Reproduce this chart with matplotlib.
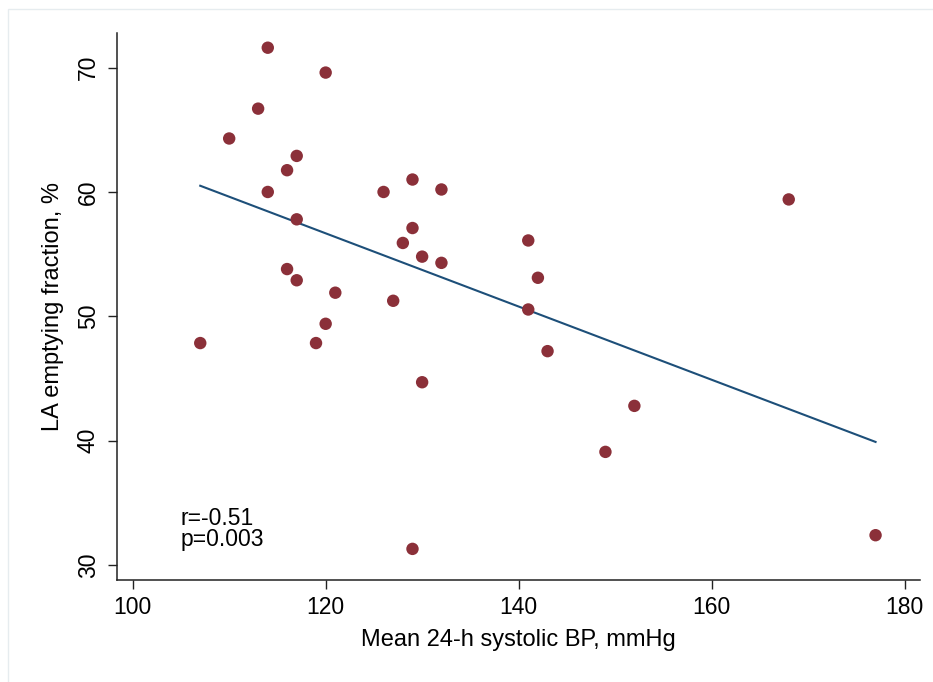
import numpy as np
import matplotlib
matplotlib.use("Agg")
import matplotlib.pyplot as plt
from matplotlib.patches import Rectangle

plt.rcParams['font.family'] = ['Liberation Sans', 'DejaVu Sans']

# mean 24-h systolic BP (mmHg) and LA emptying fraction (%)
sbp = [114, 120, 113, 110, 117, 116, 114, 117, 116, 117, 121, 120, 107, 119,
       126, 129, 132, 129, 128, 130, 132, 127, 130, 129,
       141, 142, 141, 143, 149, 152, 168, 177]
laef = [71.6, 69.6, 66.7, 64.3, 62.9, 61.75, 60.0, 57.8, 53.8, 52.9, 51.9, 49.4, 47.85, 47.85,
        60.0, 61.0, 60.2, 57.1, 55.9, 54.8, 54.3, 51.25, 44.7, 31.3,
        56.1, 53.1, 50.55, 47.2, 39.1, 42.8, 59.4, 32.4]

# fitted regression line, endpoints
fit_x = [107, 177]
fit_y = [60.5, 39.9]

xticks = [100, 120, 140, 160, 180]
yticks = [30, 40, 50, 60, 70]

fig = plt.figure(figsize=(9.33, 6.82), dpi=100)
ax = fig.add_axes([0.1257, 0.1496, 0.986 - 0.1257, 0.9512 - 0.1496])

# faint outer frame
fig.patches.append(Rectangle((8.3 / 933, -0.05), 1.2, 1.05 - 9.3 / 682,
                             transform=fig.transFigure, fill=False,
                             edgecolor='#e6ecef', linewidth=1.0))

ax.scatter(sbp, laef, s=80, color='#8b3039', edgecolors='none', zorder=3)
ax.plot(fit_x, fit_y, color='#1d4f79', linewidth=1.5, zorder=2)

ax.set_xlim(98.4, 181.6)
ax.set_ylim(28.8, 72.76)
ax.set_xticks(xticks)
ax.set_yticks(yticks)
ax.tick_params(axis='both', labelsize=16.5, length=6.5, width=1.0, color='#222222')
ax.tick_params(axis='x', pad=5)
ax.tick_params(axis='y', pad=6)
for lab in ax.get_yticklabels():
    lab.set_rotation(90)
    lab.set_va('center')

for side in ['top', 'right']:
    ax.spines[side].set_visible(False)
for side in ['left', 'bottom']:
    ax.spines[side].set_linewidth(1.1)
    ax.spines[side].set_color('#222222')

ax.set_xlabel('Mean 24-h systolic BP, mmHg', fontsize=17, labelpad=7)
ax.set_ylabel('LA emptying fraction, %', fontsize=17, labelpad=9)

ax.text(105, 33.2, 'r=-0.51', fontsize=16.5, va='baseline', ha='left')
ax.text(105, 31.5, 'p=0.003', fontsize=16.5, va='baseline', ha='left')

fig.savefig('out.png', dpi=100)
